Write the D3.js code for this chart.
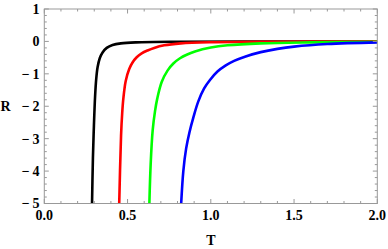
<!DOCTYPE html>
<html><head><meta charset="utf-8">
<script src="https://cdn.jsdelivr.net/npm/d3@7"></script>
<style>body{margin:0;background:#fff}svg{display:block}</style>
</head><body>
<svg id="c" width="388" height="249"></svg>
<script>
const xTicks = [0.0, 0.5, 1.0, 1.5, 2.0];
const yTicks = [1, 0, -1, -2, -3, -4, -5];
const xLabel = "T", yLabel = "R";
const seriesColors = ["#000000", "#ff0000", "#00ff00", "#0000ff"];

const blackT = [0.286, 0.292, 0.298, 0.305, 0.312, 0.32, 0.333, 0.35, 0.375, 0.41, 0.46, 0.55, 0.8, 1.2, 2.0];
const blackR = [-5.2, -3.6, -2.6, -1.7, -1.15, -0.8, -0.52, -0.34, -0.2, -0.11, -0.06, -0.03, -0.01, -0.003, 0];
const redT = [0.449, 0.461, 0.468, 0.475, 0.489, 0.51, 0.53, 0.555, 0.585, 0.62, 0.66, 0.72, 0.82, 1.0, 1.4, 2.0];
const redR = [-5.2, -2.9, -2.2, -1.75, -1.22, -0.85, -0.65, -0.49, -0.37, -0.28, -0.2, -0.12, -0.06, -0.025, -0.008, 0];
const greenT = [0.630, 0.639, 0.651, 0.665, 0.679, 0.705, 0.74, 0.775, 0.815, 0.855, 0.905, 1.0, 1.1, 1.3, 1.6, 2.0];
const greenR = [-5.2, -3.77, -2.74, -2.15, -1.75, -1.25, -0.9, -0.68, -0.52, -0.41, -0.31, -0.19, -0.12, -0.06, -0.03, -0.015];
const blueT = [0.820, 0.835, 0.852, 0.872, 0.895, 0.925, 0.96, 0.995, 1.04, 1.09, 1.14, 1.205, 1.3, 1.4, 1.5, 1.7, 2.0];
const blueR = [-5.2, -4.0, -3.3, -2.8, -2.35, -1.85, -1.45, -1.19, -0.93, -0.74, -0.6, -0.47, -0.33, -0.23, -0.16, -0.08, -0.03];

const series = [[blackT, blackR], [redT, redR], [greenT, greenR], [blueT, blueR]];

const L = 44.3, R = 377.3, T = 9, B = 203.5;
const x = d3.scaleLinear().domain([0, 2]).range([L, R]);
const y = d3.scaleLinear().domain([-5, 1]).range([B, T]);
const svg = d3.select("#c");
const font = "'Liberation Serif','Times New Roman',serif";

svg.append("clipPath").attr("id", "clip").append("rect")
  .attr("x", L).attr("y", T).attr("width", R - L).attr("height", B - T);

const line = d3.line().x(d => x(d[0])).y(d => y(d[1])).curve(d3.curveCatmullRom.alpha(0.5));
series.forEach((s, i) => {
  const pts = s[0].map((t, j) => [t, s[1][j]]);
  svg.append("path").attr("d", line(pts)).attr("fill", "none")
    .attr("stroke", seriesColors[i]).attr("stroke-width", 2.6)
    .attr("clip-path", "url(#clip)");
});

const frameColor = "#999";
svg.append("rect").attr("x", L).attr("y", T).attr("width", R - L).attr("height", B - T)
  .attr("fill", "none").attr("stroke", frameColor).attr("stroke-width", 1);

const g = svg.append("g").attr("stroke", frameColor).attr("stroke-width", 1);
const xMinor = d3.range(0, 21).map(i => i / 10);
xMinor.forEach((v, i) => {
  const len = (i % 5 === 0) ? 4.5 : 2.5;
  const px = x(v);
  g.append("line").attr("x1", px).attr("x2", px).attr("y1", B).attr("y2", B - len);
  g.append("line").attr("x1", px).attr("x2", px).attr("y1", T).attr("y2", T + len);
});
const yMinor = d3.range(0, 31).map(i => -5 + i * 0.2);
yMinor.forEach((v, i) => {
  const len = (i % 5 === 0) ? 4.5 : 2.5;
  const py = y(v);
  g.append("line").attr("x1", L).attr("x2", L + len).attr("y1", py).attr("y2", py);
  g.append("line").attr("x1", R).attr("x2", R - len).attr("y1", py).attr("y2", py);
});

svg.append("g").selectAll("text").data(xTicks).join("text")
  .attr("x", d => x(d)).attr("y", 220).attr("text-anchor", "middle")
  .attr("font-family", font).attr("font-weight", "bold").attr("font-size", 14)
  .text(d => d.toFixed(1));
svg.append("g").selectAll("text").data(yTicks).join("text")
  .attr("x", 39.5).attr("y", d => y(d)).attr("dy", "0.35em").attr("text-anchor", "end")
  .attr("font-family", font).attr("font-weight", "bold").attr("font-size", 14)
  .text(d => d < 0 ? "\u2212\u2009" + (-d) : String(d));

svg.append("text").attr("x", (L + R) / 2).attr("y", 245).attr("text-anchor", "middle")
  .attr("font-family", font).attr("font-weight", "bold").attr("font-size", 14).text(xLabel);
svg.append("text").attr("x", 5.5).attr("y", (T + B) / 2).attr("dy", "0.35em").attr("text-anchor", "middle")
  .attr("font-family", font).attr("font-weight", "bold").attr("font-size", 14).text(yLabel);
</script>
</body></html>
